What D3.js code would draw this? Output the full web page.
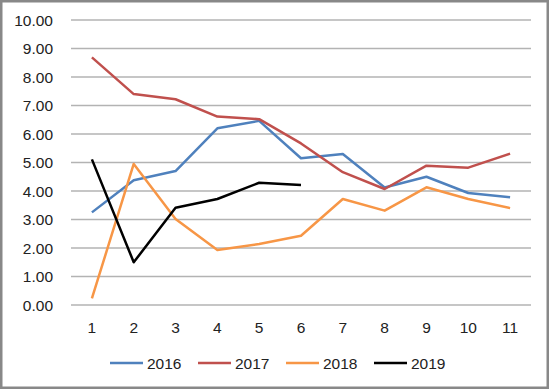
<!DOCTYPE html>
<html>
<head>
<meta charset="utf-8">
<script src="https://cdn.jsdelivr.net/npm/d3@7"></script>
<style>
  body { margin: 0; background: #fff; }
  svg text { font-family: "Liberation Sans", Arial, sans-serif; font-size: 15.5px; fill: #222; }
</style>
</head>
<body>
<svg id="chart" width="550" height="390"></svg>
<script>
'use strict';

const months = [1, 2, 3, 4, 5, 6, 7, 8, 9, 10, 11];
const yTicks = [0, 1, 2, 3, 4, 5, 6, 7, 8, 9, 10];

const s2016 = [3.25, 4.38, 4.70, 6.20, 6.46, 5.15, 5.30, 4.12, 4.50, 3.93, 3.78];
const s2017 = [8.69, 7.40, 7.22, 6.61, 6.52, 5.67, 4.66, 4.07, 4.89, 4.82, 5.31];
const s2018 = [0.23, 4.95, 3.02, 1.93, 2.14, 2.43, 3.72, 3.31, 4.13, 3.72, 3.40];
const s2019 = [5.11, 1.50, 3.41, 3.72, 4.29, 4.21];

const seriesNames = ['2016', '2017', '2018', '2019'];
const seriesColors = ['#4f81bd', '#c0504d', '#f79646', '#000000'];
const seriesData = [s2016, s2017, s2018, s2019];

const svg = d3.select('#chart');

// outer frame
svg.append('rect')
  .attr('x', 1.25).attr('y', 1.25)
  .attr('width', 546.5).attr('height', 386.5)
  .attr('fill', '#fff')
  .attr('stroke', '#888')
  .attr('stroke-width', 2.5);

const x = d3.scaleBand()
  .domain(months)
  .range([71, 531]);

const y = d3.scaleLinear()
  .domain([0, 10])
  .range([305, 20]);

// gridlines
svg.append('g')
  .selectAll('line')
  .data(yTicks)
  .enter().append('line')
  .attr('x1', x.range()[0])
  .attr('x2', x.range()[1])
  .attr('y1', d => y(d))
  .attr('y2', d => y(d))
  .attr('stroke', '#b3b3b3')
  .attr('stroke-width', 1.3);

// y labels
svg.append('g')
  .selectAll('text')
  .data(yTicks)
  .enter().append('text')
  .attr('x', 53)
  .attr('y', d => y(d))
  .attr('dy', '0.36em')
  .attr('text-anchor', 'end')
  .text(d => d.toFixed(2));

// x labels
svg.append('g')
  .selectAll('text')
  .data(months)
  .enter().append('text')
  .attr('x', d => x(d) + x.bandwidth() / 2)
  .attr('y', 327)
  .attr('dy', '0.36em')
  .attr('text-anchor', 'middle')
  .text(d => d);

const line = d3.line()
  .x((d, i) => x(months[i]) + x.bandwidth() / 2)
  .y(d => y(d));

svg.append('g')
  .selectAll('path')
  .data(seriesData)
  .enter().append('path')
  .attr('d', d => line(d))
  .attr('fill', 'none')
  .attr('stroke', (d, i) => seriesColors[i])
  .attr('stroke-width', 2.5)
  .attr('stroke-linejoin', 'round');

// legend
const legendX = [110, 198, 286, 374];
const legend = svg.append('g')
  .selectAll('g')
  .data(seriesNames)
  .enter().append('g')
  .attr('transform', (d, i) => `translate(${legendX[i]},363)`);

legend.append('line')
  .attr('x1', 0).attr('x2', 33)
  .attr('stroke', (d, i) => seriesColors[i])
  .attr('stroke-width', 2.5);

legend.append('text')
  .attr('x', 37)
  .attr('dy', '0.36em')
  .text(d => d);
</script>
</body>
</html>
